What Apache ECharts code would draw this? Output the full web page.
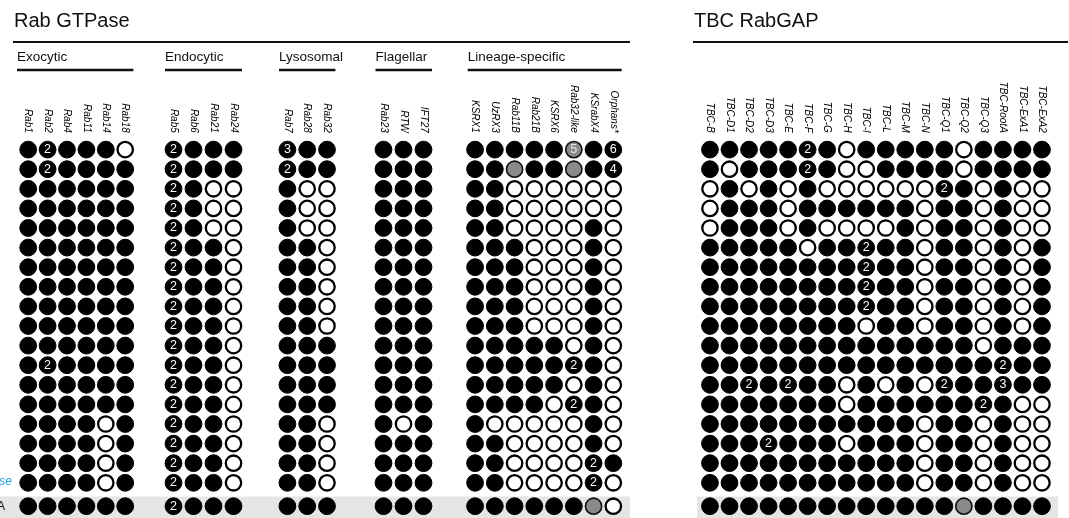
<!DOCTYPE html>
<html><head><meta charset="utf-8">
<script src="https://cdn.jsdelivr.net/npm/echarts@6/dist/echarts.min.js"></script>
<style>html,body{margin:0;padding:0;background:#fff;overflow:hidden}#c{width:1069px;height:518px}</style>
</head><body><div id="c"></div>
<script>
// ---- data ----
// token codes: 0 = absent (open), 1 = present (filled), 2..9 = present with copy number,
// g = partial (grey), gN = partial with copy number
const rowLabels = ['', '', '', '', '', '', '', '', '', '', '', '', '', '', '', '', '', 'se'];
const summaryLabel = ['A'];

const exocyticCols = ['Rab1', 'Rab2', 'Rab4', 'Rab11', 'Rab14', 'Rab18'];
const exocyticRows = [
  '1 2 1 1 1 0', '1 2 1 1 1 1', '1 1 1 1 1 1', '1 1 1 1 1 1', '1 1 1 1 1 1', '1 1 1 1 1 1',
  '1 1 1 1 1 1', '1 1 1 1 1 1', '1 1 1 1 1 1', '1 1 1 1 1 1', '1 1 1 1 1 1', '1 2 1 1 1 1',
  '1 1 1 1 1 1', '1 1 1 1 1 1', '1 1 1 1 0 1', '1 1 1 1 0 1', '1 1 1 1 0 1', '1 1 1 1 0 1'
];
const exocyticSummary = '1 1 1 1 1 1';

const endocyticCols = ['Rab5', 'Rab6', 'Rab21', 'Rab24'];
const endocyticRows = [
  '2 1 1 1', '2 1 1 1', '2 1 0 0', '2 1 0 0', '2 1 0 0', '2 1 1 0',
  '2 1 1 0', '2 1 1 0', '2 1 1 0', '2 1 1 0', '2 1 1 0', '2 1 1 0',
  '2 1 1 0', '2 1 1 0', '2 1 1 0', '2 1 1 0', '2 1 1 0', '2 1 1 0'
];
const endocyticSummary = '2 1 1 1';

const lysosomalCols = ['Rab7', 'Rab28', 'Rab32'];
const lysosomalRows = [
  '3 1 1', '2 1 1', '1 0 0', '1 0 0', '1 0 0', '1 1 0',
  '1 1 0', '1 1 0', '1 1 0', '1 1 0', '1 1 1', '1 1 1',
  '1 1 1', '1 1 1', '1 1 0', '1 1 0', '1 1 0', '1 1 0'
];
const lysosomalSummary = '1 1 1';

const flagellarCols = ['Rab23', 'RTW', 'IFT27'];
const flagellarRows = [
  '1 1 1', '1 1 1', '1 1 1', '1 1 1', '1 1 1', '1 1 1',
  '1 1 1', '1 1 1', '1 1 1', '1 1 1', '1 1 1', '1 1 1',
  '1 1 1', '1 1 1', '1 0 1', '1 1 1', '1 1 1', '1 1 1'
];
const flagellarSummary = '1 1 1';

const lineageCols = ['KSRX1', 'UzRX3', 'Rab11B', 'Rab21B', 'KSRX6', 'Rab32-like', 'KSrabX4', 'Orphans*'];
const lineageRows = [
  '1 1 1 1 1 g5 1 6', '1 1 g 1 1 g 1 4', '1 1 0 0 0 0 0 0', '1 1 0 0 0 0 0 0',
  '1 1 0 0 0 0 1 0', '1 1 1 0 0 0 1 0', '1 1 1 0 0 0 1 0', '1 1 1 0 0 0 1 0',
  '1 1 1 0 0 0 1 0', '1 1 1 0 0 0 1 0', '1 1 1 1 1 0 1 0', '1 1 1 1 1 2 1 0',
  '1 1 1 1 1 0 1 0', '1 1 1 1 0 2 1 0', '1 0 0 0 0 0 1 0', '1 1 0 0 0 0 1 0',
  '1 1 0 0 0 0 2 1', '1 1 0 0 0 0 2 0'
];
const lineageSummary = '1 1 1 1 1 1 g 0';

const tbcCols = ['TBC-B', 'TBC-D1', 'TBC-D2', 'TBC-D3', 'TBC-E', 'TBC-F', 'TBC-G', 'TBC-H', 'TBC-I',
  'TBC-L', 'TBC-M', 'TBC-N', 'TBC-Q1', 'TBC-Q2', 'TBC-Q3', 'TBC-RootA', 'TBC-ExA1', 'TBC-ExA2'];
const tbcRows = [
  '1 1 1 1 1 2 1 0 1 1 1 1 1 0 1 1 1 1',
  '1 0 1 1 1 2 1 0 0 1 1 1 1 0 1 1 1 1',
  '0 1 0 1 0 1 0 0 0 0 0 0 2 1 0 1 0 0',
  '0 1 1 1 0 1 1 1 1 1 1 0 1 1 0 1 0 0',
  '0 1 1 1 0 1 0 0 0 0 1 0 1 1 0 1 0 0',
  '1 1 1 1 1 0 1 1 2 1 1 0 1 1 0 1 0 1',
  '1 1 1 1 1 1 1 1 2 1 1 0 1 1 0 1 0 1',
  '1 1 1 1 1 1 1 1 2 1 1 0 1 1 0 1 0 1',
  '1 1 1 1 1 1 1 1 2 1 1 0 1 1 0 1 0 1',
  '1 1 1 1 1 1 1 1 0 1 1 0 1 1 0 1 0 1',
  '1 1 1 1 1 1 1 1 1 1 1 1 1 1 0 1 1 1',
  '1 1 1 1 1 1 1 1 1 1 1 1 1 1 1 2 1 1',
  '1 1 2 1 2 1 1 0 1 0 1 0 2 1 1 3 1 1',
  '1 1 1 1 1 1 1 0 1 1 1 1 1 1 2 1 0 0',
  '1 1 1 1 1 1 1 1 1 1 1 0 1 1 0 1 0 0',
  '1 1 1 2 1 1 1 0 1 1 1 0 1 1 0 1 0 0',
  '1 1 1 1 1 1 1 1 1 1 1 0 1 1 0 1 0 0',
  '1 1 1 1 1 1 1 1 1 1 1 0 1 1 0 1 0 0'
];
const tbcSummary = '1 1 1 1 1 1 1 1 1 1 1 1 1 g 1 1 1 1';

// ---- layout ----
const FONT = "'Liberation Sans', Arial, Helvetica, sans-serif";
const ROW_TOP = 139.8, ROW_H = 19.6, SUM_TOP = 496.4;
const groups = [
  { name: 'Exocytic', cols: exocyticCols, rows: exocyticRows, sum: exocyticSummary, left: 18.5, step: 19.4, hx: -1.5 },
  { name: 'Endocytic', cols: endocyticCols, rows: endocyticRows, sum: endocyticSummary, left: 163.5, step: 20, hx: 1.5 },
  { name: 'Lysosomal', cols: lysosomalCols, rows: lysosomalRows, sum: lysosomalSummary, left: 277.5, step: 19.8, hx: 1.5 },
  { name: 'Flagellar', cols: flagellarCols, rows: flagellarRows, sum: flagellarSummary, left: 373.5, step: 20, hx: 2 },
  { name: 'Lineage-specific', cols: lineageCols, rows: lineageRows, sum: lineageSummary, left: 465.2, step: 19.75, hx: 2.5 },
  { name: null, cols: tbcCols, rows: tbcRows, sum: tbcSummary, left: 700.2, step: 19.53, hx: 0 }
];

function parse(rows) {
  const out = { present: [], absent: [], partial: [] };
  rows.forEach((r, ri) => {
    r.trim().split(/\s+/).forEach((t, ci) => {
      if (t === '0') out.absent.push([ci, ri, '']);
      else if (t[0] === 'g') out.partial.push([ci, ri, t.slice(1)]);
      else out.present.push([ci, ri, t === '1' ? '' : t]);
    });
  });
  return out;
}

const grids = [], xAxes = [], yAxes = [], series = [];
const graphics = [];

function addSeries(idx, parsed) {
  const lbl = (col) => ({
    show: true, position: 'inside', color: col, fontSize: 12.5, fontFamily: FONT,
    formatter: p => p.data[2]
  });
  series.push({
    type: 'scatter', xAxisIndex: idx, yAxisIndex: idx, data: parsed.present,
    symbol: 'circle', symbolSize: 16.8, silent: true,
    itemStyle: { color: '#000000', borderColor: '#000000', borderWidth: 1, opacity: 1 },
    label: lbl('#ffffff')
  });
  series.push({
    type: 'scatter', xAxisIndex: idx, yAxisIndex: idx, data: parsed.absent,
    symbol: 'circle', symbolSize: 15.4, silent: true,
    itemStyle: { color: '#ffffff', borderColor: '#000000', borderWidth: 2.3, opacity: 1 }
  });
  series.push({
    type: 'scatter', xAxisIndex: idx, yAxisIndex: idx, data: parsed.partial,
    symbol: 'circle', symbolSize: 16.2, silent: true,
    itemStyle: { color: '#8a8a8a', borderColor: '#111111', borderWidth: 1.6, opacity: 1 },
    label: lbl('#e6e6e6')
  });
}

groups.forEach((g, gi) => {
  const w = g.cols.length * g.step;
  // main grid
  const mi = grids.length;
  grids.push({ left: g.left, top: ROW_TOP, width: w, height: ROW_H * 18 });
  xAxes.push({
    type: 'category', gridIndex: mi, data: g.cols, position: 'top',
    axisLine: { show: false }, axisTick: { show: false }, splitLine: { show: false },
    axisLabel: { interval: 0, rotate: 90, margin: 7, fontSize: 10, fontStyle: 'italic', color: '#000', fontFamily: FONT }
  });
  yAxes.push({
    type: 'category', gridIndex: mi, data: rowLabels, inverse: true, show: false
  });
  addSeries(mi, parse(g.rows));
  // summary grid
  const si = grids.length;
  grids.push({ left: g.left, top: SUM_TOP, width: w, height: ROW_H });
  xAxes.push({ type: 'category', gridIndex: si, data: g.cols, show: false });
  yAxes.push({ type: 'category', gridIndex: si, data: summaryLabel, show: false });
  addSeries(si, parse([g.sum]));

  if (g.name) {
    graphics.push({
      type: 'text', x: g.left + g.hx, y: 57, silent: true,
      style: { text: g.name, fill: '#111', font: '13.5px ' + FONT, align: 'left', verticalAlign: 'middle', textAlign: 'left', textVerticalAlign: 'middle' }
    });
    graphics.push({
      type: 'line', silent: true,
      shape: { x1: g.left + g.hx, y1: 70, x2: g.left + w - 1.5, y2: 70 },
      style: { stroke: '#111', lineWidth: 2.6 }
    });
  }
});

// row labels visible at the cropped left edge
graphics.push(
  { type: 'text', x: 12, y: 482, silent: true, style: { text: rowLabels[17], fill: '#1e9fe0', font: 'italic 12px ' + FONT, align: 'right', verticalAlign: 'middle', textAlign: 'right', textVerticalAlign: 'middle' } },
  { type: 'text', x: 5, y: 507, silent: true, style: { text: summaryLabel[0], fill: '#111', font: '12px ' + FONT, align: 'right', verticalAlign: 'middle', textAlign: 'right', textVerticalAlign: 'middle' } }
);

// panel titles, rules and grey summary bands
graphics.push(
  { type: 'rect', silent: true, z: -10, shape: { x: 0, y: 496.5, width: 630, height: 22 }, style: { fill: '#e5e5e5' } },
  { type: 'rect', silent: true, z: -10, shape: { x: 697, y: 496.5, width: 361, height: 22 }, style: { fill: '#e5e5e5' } },
  { type: 'text', x: 14, y: 21, silent: true, style: { text: 'Rab GTPase', fill: '#111', font: '20px ' + FONT, align: 'left', verticalAlign: 'middle', textAlign: 'left', textVerticalAlign: 'middle' } },
  { type: 'text', x: 694, y: 21, silent: true, style: { text: 'TBC RabGAP', fill: '#111', font: '20px ' + FONT, align: 'left', verticalAlign: 'middle', textAlign: 'left', textVerticalAlign: 'middle' } },
  { type: 'line', silent: true, shape: { x1: 13, y1: 42, x2: 630, y2: 42 }, style: { stroke: '#111', lineWidth: 2 } },
  { type: 'line', silent: true, shape: { x1: 693, y1: 42, x2: 1068, y2: 42 }, style: { stroke: '#111', lineWidth: 2 } }
);

const chart = echarts.init(document.getElementById('c'), null, { renderer: 'canvas' });
chart.setOption({
  animation: false,
  backgroundColor: '#ffffff',
  grid: grids,
  xAxis: xAxes,
  yAxis: yAxes,
  series: series,
  graphic: { elements: graphics }
});
</script>
</body></html>
